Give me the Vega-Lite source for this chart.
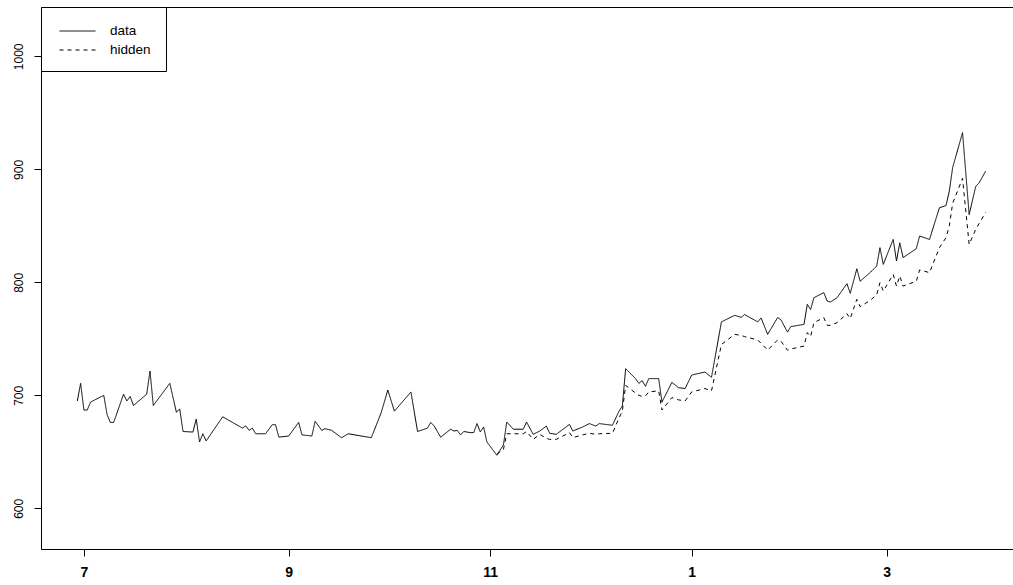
{
  "$schema": "https://vega.github.io/schema/vega-lite/v6.json",
  "width": 981,
  "height": 542,
  "autosize": {"type": "none"},
  "padding": {"left": 41, "top": 7, "right": 0, "bottom": 36},
  "background": "white",
  "config": {
    "view": {"stroke": "black", "strokeWidth": 1},
    "font": "Liberation Sans"
  },
  "datasets": {
    "d": [
      {"date": "2012-06-29", "series": "data", "value": 695},
      {"date": "2012-06-30", "series": "data", "value": 710.6},
      {"date": "2012-07-01", "series": "data", "value": 687},
      {"date": "2012-07-02", "series": "data", "value": 687},
      {"date": "2012-07-03", "series": "data", "value": 694},
      {"date": "2012-07-07", "series": "data", "value": 700},
      {"date": "2012-07-08", "series": "data", "value": 683},
      {"date": "2012-07-09", "series": "data", "value": 676},
      {"date": "2012-07-10", "series": "data", "value": 676},
      {"date": "2012-07-13", "series": "data", "value": 701},
      {"date": "2012-07-14", "series": "data", "value": 695},
      {"date": "2012-07-15", "series": "data", "value": 699},
      {"date": "2012-07-16", "series": "data", "value": 691},
      {"date": "2012-07-20", "series": "data", "value": 701},
      {"date": "2012-07-21", "series": "data", "value": 721.5},
      {"date": "2012-07-22", "series": "data", "value": 691},
      {"date": "2012-07-27", "series": "data", "value": 710.6},
      {"date": "2012-07-29", "series": "data", "value": 685},
      {"date": "2012-07-30", "series": "data", "value": 688},
      {"date": "2012-07-31", "series": "data", "value": 668},
      {"date": "2012-08-03", "series": "data", "value": 667.5},
      {"date": "2012-08-04", "series": "data", "value": 679},
      {"date": "2012-08-05", "series": "data", "value": 658.7},
      {"date": "2012-08-06", "series": "data", "value": 666},
      {"date": "2012-08-07", "series": "data", "value": 659.6},
      {"date": "2012-08-12", "series": "data", "value": 681},
      {"date": "2012-08-15", "series": "data", "value": 676},
      {"date": "2012-08-18", "series": "data", "value": 671},
      {"date": "2012-08-19", "series": "data", "value": 673},
      {"date": "2012-08-20", "series": "data", "value": 669},
      {"date": "2012-08-21", "series": "data", "value": 671},
      {"date": "2012-08-22", "series": "data", "value": 666},
      {"date": "2012-08-25", "series": "data", "value": 666},
      {"date": "2012-08-27", "series": "data", "value": 674},
      {"date": "2012-08-28", "series": "data", "value": 674},
      {"date": "2012-08-29", "series": "data", "value": 663},
      {"date": "2012-09-01", "series": "data", "value": 664},
      {"date": "2012-09-04", "series": "data", "value": 676},
      {"date": "2012-09-05", "series": "data", "value": 665},
      {"date": "2012-09-08", "series": "data", "value": 664},
      {"date": "2012-09-09", "series": "data", "value": 677},
      {"date": "2012-09-11", "series": "data", "value": 669},
      {"date": "2012-09-12", "series": "data", "value": 670.5},
      {"date": "2012-09-14", "series": "data", "value": 669},
      {"date": "2012-09-17", "series": "data", "value": 662.5},
      {"date": "2012-09-19", "series": "data", "value": 666},
      {"date": "2012-09-26", "series": "data", "value": 662.5},
      {"date": "2012-09-29", "series": "data", "value": 684.7},
      {"date": "2012-10-01", "series": "data", "value": 704.7},
      {"date": "2012-10-03", "series": "data", "value": 686},
      {"date": "2012-10-08", "series": "data", "value": 703},
      {"date": "2012-10-10", "series": "data", "value": 668},
      {"date": "2012-10-13", "series": "data", "value": 671},
      {"date": "2012-10-14", "series": "data", "value": 676},
      {"date": "2012-10-15", "series": "data", "value": 673},
      {"date": "2012-10-17", "series": "data", "value": 663},
      {"date": "2012-10-20", "series": "data", "value": 670},
      {"date": "2012-10-21", "series": "data", "value": 668.4},
      {"date": "2012-10-22", "series": "data", "value": 669},
      {"date": "2012-10-23", "series": "data", "value": 665},
      {"date": "2012-10-24", "series": "data", "value": 668},
      {"date": "2012-10-26", "series": "data", "value": 667},
      {"date": "2012-10-27", "series": "data", "value": 667},
      {"date": "2012-10-28", "series": "data", "value": 675},
      {"date": "2012-10-29", "series": "data", "value": 667.6},
      {"date": "2012-10-30", "series": "data", "value": 672},
      {"date": "2012-10-31", "series": "data", "value": 658.7},
      {"date": "2012-11-03", "series": "data", "value": 647},
      {"date": "2012-11-05", "series": "data", "value": 656},
      {"date": "2012-11-06", "series": "data", "value": 676.4},
      {"date": "2012-11-08", "series": "data", "value": 670},
      {"date": "2012-11-11", "series": "data", "value": 670},
      {"date": "2012-11-12", "series": "data", "value": 676.4},
      {"date": "2012-11-14", "series": "data", "value": 665.5},
      {"date": "2012-11-16", "series": "data", "value": 668.4},
      {"date": "2012-11-18", "series": "data", "value": 672.8},
      {"date": "2012-11-19", "series": "data", "value": 666.4},
      {"date": "2012-11-21", "series": "data", "value": 665.5},
      {"date": "2012-11-25", "series": "data", "value": 674.3},
      {"date": "2012-11-26", "series": "data", "value": 668.4},
      {"date": "2012-11-29", "series": "data", "value": 672},
      {"date": "2012-12-01", "series": "data", "value": 675},
      {"date": "2012-12-03", "series": "data", "value": 672.8},
      {"date": "2012-12-04", "series": "data", "value": 675},
      {"date": "2012-12-08", "series": "data", "value": 673.5},
      {"date": "2012-12-10", "series": "data", "value": 686},
      {"date": "2012-12-11", "series": "data", "value": 690.5},
      {"date": "2012-12-12", "series": "data", "value": 723.6},
      {"date": "2012-12-15", "series": "data", "value": 714.8},
      {"date": "2012-12-16", "series": "data", "value": 710.6},
      {"date": "2012-12-17", "series": "data", "value": 713},
      {"date": "2012-12-18", "series": "data", "value": 708},
      {"date": "2012-12-19", "series": "data", "value": 714.8},
      {"date": "2012-12-22", "series": "data", "value": 714.8},
      {"date": "2012-12-23", "series": "data", "value": 694},
      {"date": "2012-12-26", "series": "data", "value": 711.5},
      {"date": "2012-12-28", "series": "data", "value": 706.8},
      {"date": "2012-12-30", "series": "data", "value": 706},
      {"date": "2013-01-01", "series": "data", "value": 718},
      {"date": "2013-01-05", "series": "data", "value": 720.6},
      {"date": "2013-01-07", "series": "data", "value": 716},
      {"date": "2013-01-10", "series": "data", "value": 765},
      {"date": "2013-01-14", "series": "data", "value": 770.8},
      {"date": "2013-01-16", "series": "data", "value": 769},
      {"date": "2013-01-17", "series": "data", "value": 771.5},
      {"date": "2013-01-21", "series": "data", "value": 765},
      {"date": "2013-01-22", "series": "data", "value": 768.5},
      {"date": "2013-01-24", "series": "data", "value": 754},
      {"date": "2013-01-27", "series": "data", "value": 768.8},
      {"date": "2013-01-28", "series": "data", "value": 767},
      {"date": "2013-01-30", "series": "data", "value": 756},
      {"date": "2013-01-31", "series": "data", "value": 760.8},
      {"date": "2013-02-04", "series": "data", "value": 762.8},
      {"date": "2013-02-05", "series": "data", "value": 780.5},
      {"date": "2013-02-06", "series": "data", "value": 776},
      {"date": "2013-02-07", "series": "data", "value": 786.4},
      {"date": "2013-02-10", "series": "data", "value": 790.9},
      {"date": "2013-02-11", "series": "data", "value": 783.5},
      {"date": "2013-02-12", "series": "data", "value": 782.6},
      {"date": "2013-02-14", "series": "data", "value": 786.4},
      {"date": "2013-02-17", "series": "data", "value": 798.8},
      {"date": "2013-02-18", "series": "data", "value": 790.3},
      {"date": "2013-02-20", "series": "data", "value": 812},
      {"date": "2013-02-21", "series": "data", "value": 801},
      {"date": "2013-02-24", "series": "data", "value": 808.6},
      {"date": "2013-02-26", "series": "data", "value": 814.4},
      {"date": "2013-02-27", "series": "data", "value": 830.7},
      {"date": "2013-02-28", "series": "data", "value": 815.9},
      {"date": "2013-03-03", "series": "data", "value": 838},
      {"date": "2013-03-04", "series": "data", "value": 818.9},
      {"date": "2013-03-05", "series": "data", "value": 835},
      {"date": "2013-03-06", "series": "data", "value": 821.9},
      {"date": "2013-03-10", "series": "data", "value": 829.8},
      {"date": "2013-03-11", "series": "data", "value": 841},
      {"date": "2013-03-14", "series": "data", "value": 838},
      {"date": "2013-03-17", "series": "data", "value": 866},
      {"date": "2013-03-19", "series": "data", "value": 868},
      {"date": "2013-03-20", "series": "data", "value": 880.8},
      {"date": "2013-03-21", "series": "data", "value": 901.5},
      {"date": "2013-03-24", "series": "data", "value": 932.5},
      {"date": "2013-03-26", "series": "data", "value": 860},
      {"date": "2013-03-28", "series": "data", "value": 885},
      {"date": "2013-03-29", "series": "data", "value": 888},
      {"date": "2013-03-31", "series": "data", "value": 898.5},
      {"date": "2012-11-03", "series": "hidden", "value": 648},
      {"date": "2012-11-05", "series": "hidden", "value": 652},
      {"date": "2012-11-06", "series": "hidden", "value": 666},
      {"date": "2012-11-08", "series": "hidden", "value": 666},
      {"date": "2012-11-11", "series": "hidden", "value": 666},
      {"date": "2012-11-12", "series": "hidden", "value": 668},
      {"date": "2012-11-14", "series": "hidden", "value": 661},
      {"date": "2012-11-16", "series": "hidden", "value": 665.5},
      {"date": "2012-11-18", "series": "hidden", "value": 662},
      {"date": "2012-11-19", "series": "hidden", "value": 661},
      {"date": "2012-11-21", "series": "hidden", "value": 661},
      {"date": "2012-11-25", "series": "hidden", "value": 667},
      {"date": "2012-11-26", "series": "hidden", "value": 662.6},
      {"date": "2012-11-29", "series": "hidden", "value": 665},
      {"date": "2012-12-01", "series": "hidden", "value": 666.4},
      {"date": "2012-12-03", "series": "hidden", "value": 665.5},
      {"date": "2012-12-04", "series": "hidden", "value": 666},
      {"date": "2012-12-08", "series": "hidden", "value": 666.4},
      {"date": "2012-12-10", "series": "hidden", "value": 680},
      {"date": "2012-12-11", "series": "hidden", "value": 686},
      {"date": "2012-12-12", "series": "hidden", "value": 708.8},
      {"date": "2012-12-15", "series": "hidden", "value": 702},
      {"date": "2012-12-16", "series": "hidden", "value": 700},
      {"date": "2012-12-17", "series": "hidden", "value": 699},
      {"date": "2012-12-18", "series": "hidden", "value": 699.5},
      {"date": "2012-12-19", "series": "hidden", "value": 703},
      {"date": "2012-12-22", "series": "hidden", "value": 704},
      {"date": "2012-12-23", "series": "hidden", "value": 687},
      {"date": "2012-12-26", "series": "hidden", "value": 698},
      {"date": "2012-12-28", "series": "hidden", "value": 696},
      {"date": "2012-12-30", "series": "hidden", "value": 695},
      {"date": "2013-01-01", "series": "hidden", "value": 703},
      {"date": "2013-01-05", "series": "hidden", "value": 706},
      {"date": "2013-01-07", "series": "hidden", "value": 704},
      {"date": "2013-01-10", "series": "hidden", "value": 745},
      {"date": "2013-01-14", "series": "hidden", "value": 754},
      {"date": "2013-01-16", "series": "hidden", "value": 753},
      {"date": "2013-01-17", "series": "hidden", "value": 752},
      {"date": "2013-01-21", "series": "hidden", "value": 749},
      {"date": "2013-01-22", "series": "hidden", "value": 746},
      {"date": "2013-01-24", "series": "hidden", "value": 740},
      {"date": "2013-01-27", "series": "hidden", "value": 749},
      {"date": "2013-01-28", "series": "hidden", "value": 748},
      {"date": "2013-01-30", "series": "hidden", "value": 740},
      {"date": "2013-01-31", "series": "hidden", "value": 741},
      {"date": "2013-02-04", "series": "hidden", "value": 743.6},
      {"date": "2013-02-05", "series": "hidden", "value": 755.5},
      {"date": "2013-02-06", "series": "hidden", "value": 752},
      {"date": "2013-02-07", "series": "hidden", "value": 764.3},
      {"date": "2013-02-10", "series": "hidden", "value": 768.8},
      {"date": "2013-02-11", "series": "hidden", "value": 762},
      {"date": "2013-02-12", "series": "hidden", "value": 762},
      {"date": "2013-02-14", "series": "hidden", "value": 764.3},
      {"date": "2013-02-17", "series": "hidden", "value": 772.3},
      {"date": "2013-02-18", "series": "hidden", "value": 768},
      {"date": "2013-02-20", "series": "hidden", "value": 785},
      {"date": "2013-02-21", "series": "hidden", "value": 778.5},
      {"date": "2013-02-24", "series": "hidden", "value": 784},
      {"date": "2013-02-26", "series": "hidden", "value": 789},
      {"date": "2013-02-27", "series": "hidden", "value": 799.7},
      {"date": "2013-02-28", "series": "hidden", "value": 792.3},
      {"date": "2013-03-03", "series": "hidden", "value": 807},
      {"date": "2013-03-04", "series": "hidden", "value": 796.7},
      {"date": "2013-03-05", "series": "hidden", "value": 805.6},
      {"date": "2013-03-06", "series": "hidden", "value": 796.7},
      {"date": "2013-03-10", "series": "hidden", "value": 801},
      {"date": "2013-03-11", "series": "hidden", "value": 811},
      {"date": "2013-03-14", "series": "hidden", "value": 808.6},
      {"date": "2013-03-17", "series": "hidden", "value": 830.7},
      {"date": "2013-03-19", "series": "hidden", "value": 839.6},
      {"date": "2013-03-20", "series": "hidden", "value": 850},
      {"date": "2013-03-21", "series": "hidden", "value": 870},
      {"date": "2013-03-24", "series": "hidden", "value": 892},
      {"date": "2013-03-26", "series": "hidden", "value": 833.6},
      {"date": "2013-03-28", "series": "hidden", "value": 847},
      {"date": "2013-03-29", "series": "hidden", "value": 852},
      {"date": "2013-03-31", "series": "hidden", "value": 862}
    ]
  },
  "data": {"name": "d"},
  "mark": {"type": "line", "stroke": "black", "strokeWidth": 1, "interpolate": "linear"},
  "encoding": {
    "x": {
      "field": "date",
      "type": "temporal",
      "scale": {
        "type": "utc",
        "domain": [
          {"year": 2012, "month": 6, "date": 18, "utc": true},
          {"year": 2013, "month": 4, "date": 11, "utc": true}
        ]
      },
      "axis": {
        "title": null,
        "values": [
          {"year": 2012, "month": 7, "date": 1, "utc": true},
          {"year": 2012, "month": 9, "date": 1, "utc": true},
          {"year": 2012, "month": 11, "date": 1, "utc": true},
          {"year": 2013, "month": 1, "date": 1, "utc": true},
          {"year": 2013, "month": 3, "date": 1, "utc": true}
        ],
        "labelExpr": "utcFormat(datum.value, '%-m')",
        "domain": false,
        "grid": false,
        "ticks": true,
        "tickColor": "black",
        "tickSize": 7,
        "tickWidth": 1,
        "labelFont": "Liberation Sans",
        "labelFontWeight": "bold",
        "labelFontSize": 14,
        "labelColor": "black",
        "labelPadding": 9,
        "labelFlush": false,
        "labelOverlap": false
      }
    },
    "y": {
      "field": "value",
      "type": "quantitative",
      "scale": {"domain": [564, 1043.7], "nice": false, "zero": false},
      "axis": {
        "title": null,
        "values": [600, 700, 800, 900, 1000],
        "format": "d",
        "domain": false,
        "grid": false,
        "tickColor": "black",
        "tickSize": 7,
        "tickWidth": 1,
        "labelAngle": -90,
        "labelAlign": "center",
        "labelBaseline": "alphabetic",
        "labelPadding": 12,
        "labelFont": "Liberation Sans",
        "labelFontSize": 12,
        "labelColor": "black",
        "labelFlush": false,
        "labelOverlap": false
      }
    },
    "strokeDash": {
      "field": "series",
      "type": "nominal",
      "scale": {"domain": ["data", "hidden"], "range": [[1, 0], [4, 4]]},
      "legend": {
        "title": null,
        "orient": "top-left",
        "offset": 0,
        "fillColor": "white",
        "strokeColor": "black",
        "padding": 14.5,
        "symbolType": "M-2,0H2",
        "symbolSize": 324,
        "symbolOffset": 12.5,
        "symbolStrokeColor": "black",
        "symbolStrokeWidth": 1,
        "labelFont": "Liberation Sans",
        "labelFontSize": 13.5,
        "labelColor": "black",
        "labelOffset": 23,
        "rowPadding": 3
      }
    }
  }
}
